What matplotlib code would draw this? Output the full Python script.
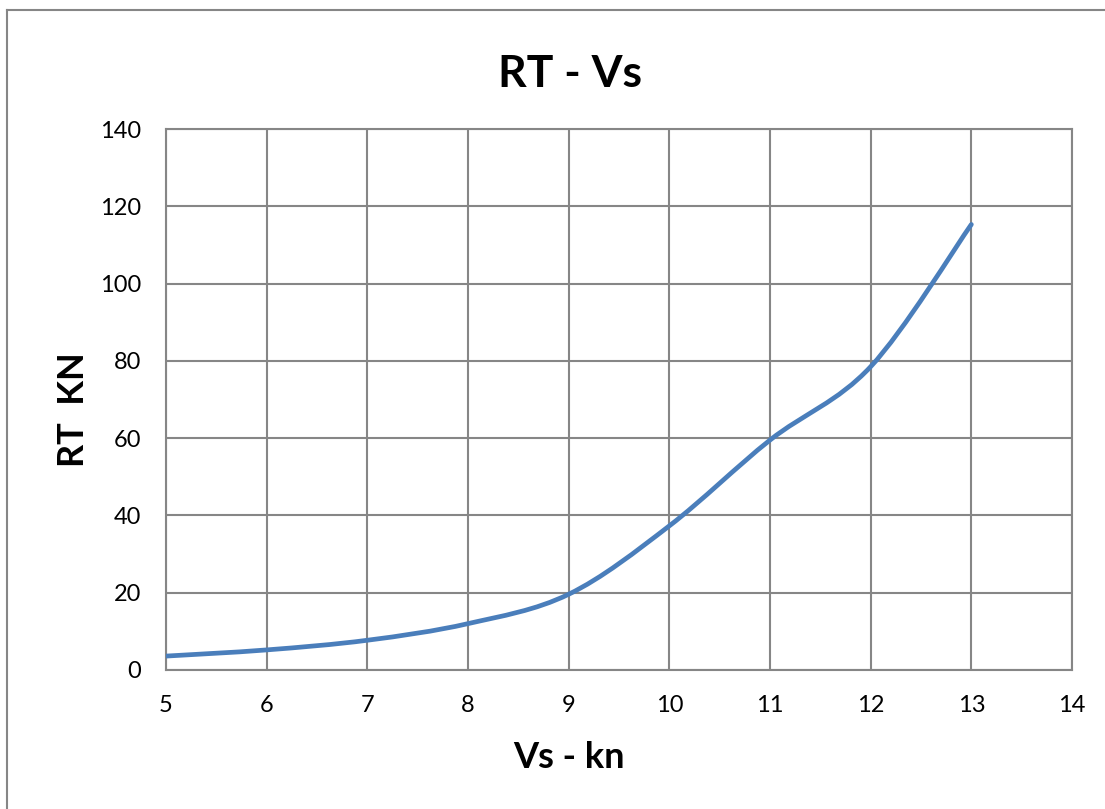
import matplotlib
matplotlib.use("Agg")
import matplotlib.pyplot as plt
from matplotlib.path import Path
from matplotlib.patches import PathPatch
from matplotlib.lines import Line2D
import numpy as np

vs = [5, 6, 7, 8, 9, 10, 11, 12, 13]
rt = [3.6, 5.2, 7.7, 12.0, 19.6, 37.3, 59.5, 78.5, 115.3]
xticks = [5, 6, 7, 8, 9, 10, 11, 12, 13, 14]
yticks = [0, 20, 40, 60, 80, 100, 120, 140]

plt.rcParams['font.family'] = ['Lato', 'DejaVu Sans']

W, H = 1105, 809
fig = plt.figure(figsize=(W / 100, H / 100), dpi=100)
ax = fig.add_axes([166 / W, 1 - 670 / H, (1072 - 166) / W, (670 - 129) / H])

ax.set_xlim(5, 14)
ax.set_ylim(0, 140)
ax.set_xticks(xticks)
ax.set_yticks(yticks)
ax.grid(True, color='#868686', linewidth=1.5)
ax.set_axisbelow(True)
for s in ax.spines.values():
    s.set_color('#868686')
    s.set_linewidth(1.5)
ax.tick_params(length=0, labelsize=17, colors='black')
ax.tick_params(axis='x', pad=18)
ax.tick_params(axis='y', pad=18)

# Excel-style smoothed line (cubic Bezier, tension 1/6)
pts = np.column_stack([vs, rt]).astype(float)
n = len(pts)
verts = [tuple(pts[0])]
codes = [Path.MOVETO]
for i in range(n - 1):
    p0 = pts[i - 1] if i > 0 else pts[i]
    p1 = pts[i]
    p2 = pts[i + 1]
    p3 = pts[i + 2] if i + 2 < n else pts[i + 1]
    c1 = p1 + (p2 - p0) / 6.0
    c2 = p2 - (p3 - p1) / 6.0
    verts += [tuple(c1), tuple(c2), tuple(p2)]
    codes += [Path.CURVE4] * 3
ax.add_patch(PathPatch(Path(verts, codes), facecolor='none', edgecolor='#4A7EBB',
                       linewidth=3.4, capstyle='round', joinstyle='round', zorder=3))

fig.text(570 / W, 1 - 74 / H, 'RT - Vs', ha='center', va='center', fontsize=32, fontweight='bold')
fig.text(569 / W, 1 - 757 / H, 'Vs - kn', ha='center', va='center', fontsize=26, fontweight='bold')
fig.text(73 / W, 1 - 410 / H, 'RT  KN', ha='center', va='center', fontsize=26, fontweight='bold', rotation=90)

# outer chart border (top and left visible)
fig.add_artist(Line2D([7 / W, 1], [1 - 9.5 / H, 1 - 9.5 / H], color='#868686', linewidth=1.5))
fig.add_artist(Line2D([7 / W, 7 / W], [0, 1 - 9.5 / H], color='#868686', linewidth=1.5))

fig.savefig('out.png', dpi=100, facecolor='white')
